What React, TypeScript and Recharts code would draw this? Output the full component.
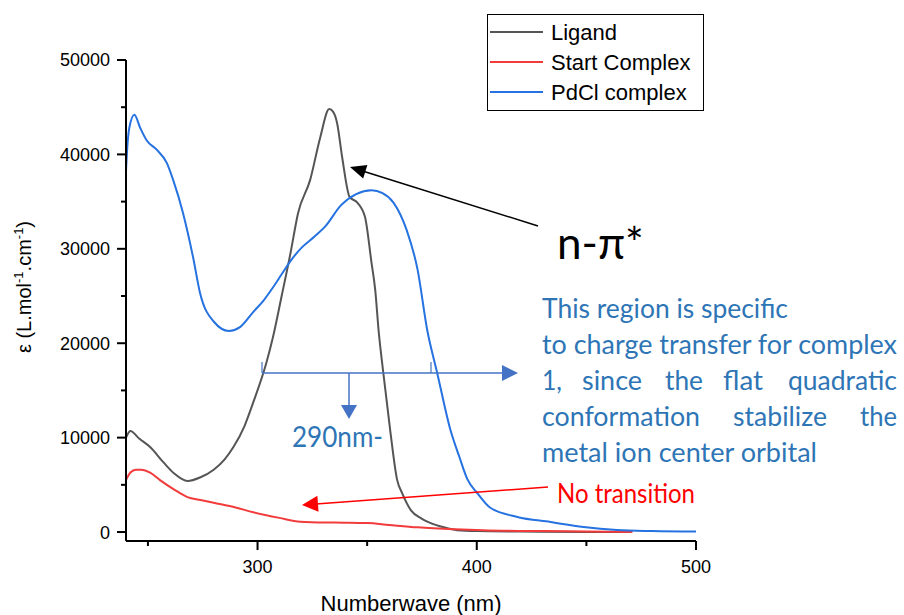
import React from 'react';
import { LineChart, Line, XAxis, YAxis } from 'recharts';

const W = 904;
const H = 615;

// UV-Vis spectra: wavelength (nm) and molar absorptivity
const ligandNm = [240, 242, 246, 251, 257, 262, 268, 274, 280, 285, 289, 294, 298, 304, 307, 311, 315, 318.5, 324, 328.6, 332.7, 334.5, 336.3, 338.6, 342, 345.5, 349, 352, 353.7, 355.2, 357.4, 360.5, 363.7, 366, 370, 375, 379, 385, 391, 400, 420, 450, 470];
const ligandEps = [10000, 10700, 9900, 9000, 7400, 6200, 5400, 5800, 6600, 7700, 9000, 11200, 13700, 17900, 20600, 25000, 29500, 33800, 37300, 41800, 44800, 44500, 43300, 39700, 35500, 34900, 33400, 28500, 25600, 21400, 16800, 10800, 5500, 4100, 2300, 1400, 950, 500, 200, 100, 50, 0, 0];

const startNm = [240, 242, 244.5, 247, 251, 255.5, 262, 268, 274, 280, 290, 298, 310, 319.5, 335, 350, 360, 373, 390, 403, 430, 450, 471];
const startEps = [5500, 6300, 6600, 6600, 6300, 5500, 4500, 3700, 3400, 3100, 2600, 2100, 1500, 1100, 1000, 950, 750, 500, 300, 200, 100, 50, 0];

const pdclNm = [240, 240.6, 241.5, 243.8, 246.5, 249.4, 254, 258.6, 261.5, 266, 270.6, 273.8, 280, 287, 292, 298, 303, 307, 311, 315, 320, 326, 331, 338, 345, 352, 357, 362, 368, 373, 377.4, 382, 388, 392, 395.7, 400.3, 406, 418.5, 433.6, 448.7, 464, 480, 500];
const pdclEps = [38300, 40800, 42800, 44200, 42800, 41500, 40500, 39100, 37300, 33800, 29100, 25300, 22300, 21300, 21700, 23300, 24600, 25900, 27300, 28700, 30100, 31300, 32400, 34600, 35800, 36200, 35900, 34900, 32000, 27800, 21400, 16800, 10800, 8000, 5600, 4100, 2600, 1600, 1060, 530, 210, 100, 50];

const xTicks = [250, 300, 350, 400, 450, 500];
const xMajor = [300, 400, 500];
const yTicks = [0, 5000, 10000, 15000, 20000, 25000, 30000, 35000, 40000, 45000, 50000];
const yMajor = [0, 10000, 20000, 30000, 40000, 50000];

const zip = (nm: number[], eps: number[]) => nm.map((x, i) => ({ nm: x, eps: eps[i] }));

const series = [
  { name: 'Ligand', color: '#555555', data: zip(ligandNm, ligandEps) },
  { name: 'Start Complex', color: '#f23b3b', data: zip(startNm, startEps) },
  { name: 'PdCl complex', color: '#2572e0', data: zip(pdclNm, pdclEps) },
];

// justified note lines: [word, left, right]
const noteLine3: [string, number, number][] = [
  ['1,', 542, 562], ['since', 582, 642], ['the', 665, 703], ['flat', 723, 763], ['quadratic', 788, 897],
];
const noteLine4: [string, number, number][] = [
  ['conformation', 542, 700], ['stabilize', 733, 827], ['the', 860, 897],
];

const axisFont = '"Liberation Sans", Arial, sans-serif';
const noteFont = 'Lato, "Open Sans", sans-serif';
const noteBlue = '#2e75b6';
const arrowBlue = '#4472c4';

const XTick = (props: any) => {
  const { x, y, payload } = props;
  const major = xMajor.includes(payload.value);
  return (
    <g>
      <line x1={x} x2={x} y1={y} y2={y + (major ? 9 : 5)} stroke="#000" strokeWidth={2} />
      {major && (
        <text x={x} y={y + 32} textAnchor="middle" fontSize={18} fontFamily={axisFont} fill="#000">
          {payload.value}
        </text>
      )}
    </g>
  );
};

const YTick = (props: any) => {
  const { x, y, payload } = props;
  const major = yMajor.includes(payload.value);
  return (
    <g>
      <line x1={x - (major ? 9 : 5)} x2={x} y1={y} y2={y} stroke="#000" strokeWidth={2} />
      {major && (
        <text x={x - 16} y={y} dy="0.36em" textAnchor="end" fontSize={18} fontFamily={axisFont} fill="#000">
          {payload.value}
        </text>
      )}
    </g>
  );
};

// straight arrow with a filled triangular head at (x2, y2)
const Arrow = ({ x1, y1, x2, y2, color, width = 1.5, head = 15, half = 7.5 }: any) => {
  const dx = x2 - x1;
  const dy = y2 - y1;
  const len = Math.hypot(dx, dy);
  const ux = dx / len;
  const uy = dy / len;
  const bx = x2 - ux * head;
  const by = y2 - uy * head;
  const pts = `${x2},${y2} ${bx - uy * half},${by + ux * half} ${bx + uy * half},${by - ux * half}`;
  return (
    <g>
      <line x1={x1} y1={y1} x2={bx + ux * 2} y2={by + uy * 2} stroke={color} strokeWidth={width} />
      <polygon points={pts} fill={color} />
    </g>
  );
};

const Notes = () => (
  <svg width={W} height={H} style={{ position: 'absolute', left: 0, top: 0, pointerEvents: 'none' }}>
    {/* legend */}
    <rect x={487.5} y={14.5} width={216} height={96} fill="#fff" stroke="#000" strokeWidth={1} />
    {series.map((s, i) => (
      <g key={s.name}>
        <line x1={490} x2={543} y1={32 + i * 30} y2={32 + i * 30} stroke={s.color} strokeWidth={2} />
        <text x={551} y={32 + i * 30 + 8} fontSize={22} fontFamily={axisFont} fill="#000">
          {s.name}
        </text>
      </g>
    ))}

    {/* axis titles */}
    <text transform="translate(31,287) rotate(-90)" textAnchor="middle" fontSize={20} fontFamily={axisFont} fill="#000">
      ε (L.mol
      <tspan fontSize={13} dy={-8}>-1</tspan>
      <tspan dy={8}>.cm</tspan>
      <tspan fontSize={13} dy={-8}>-1</tspan>
      <tspan dy={8}>)</tspan>
    </text>
    <text x={411} y={611} textAnchor="middle" fontSize={22} fontFamily={axisFont} fill="#000">
      Numberwave (nm)
    </text>

    {/* n-π* label */}
    <Arrow x1={538} y1={226} x2={350} y2={167} color="#000" width={1.5} head={16} half={7} />
    <text x={557} y={259} fontSize={44} fontFamily={noteFont} fill="#000">n-π*</text>

    {/* charge transfer region */}
    <line x1={262} x2={262} y1={362} y2={373} stroke={arrowBlue} strokeWidth={1.2} />
    <line x1={431} x2={431} y1={362} y2={373} stroke={arrowBlue} strokeWidth={1.2} />
    <Arrow x1={262} y1={373} x2={518} y2={373} color={arrowBlue} width={1.5} head={16} half={8} />
    <Arrow x1={349} y1={373} x2={349} y2={419} color={arrowBlue} width={1.5} head={14} half={8} />
    <text x={292} y={447} fontSize={28} fontFamily={noteFont} fill={noteBlue} textLength={91} lengthAdjust="spacingAndGlyphs">
      290nm-
    </text>

    <g fontSize={27} fontFamily={noteFont} fill={noteBlue}>
      <text x={542} y={318} textLength={246} lengthAdjust="spacingAndGlyphs">This region is specific</text>
      <text x={542} y={354} textLength={355} lengthAdjust="spacingAndGlyphs">to charge transfer for complex</text>
      {noteLine3.map(([w, a, b]) => (
        <text key={`l3-${w}`} x={a} y={390} textLength={b - a} lengthAdjust="spacingAndGlyphs">{w}</text>
      ))}
      {noteLine4.map(([w, a, b]) => (
        <text key={`l4-${w}`} x={a} y={426} textLength={b - a} lengthAdjust="spacingAndGlyphs">{w}</text>
      ))}
      <text x={542} y={462} textLength={275} lengthAdjust="spacingAndGlyphs">metal ion center orbital</text>
    </g>

    {/* start complex note */}
    <Arrow x1={548} y1={487} x2={302} y2={505} color="#ff0000" width={1.5} head={16} half={8} />
    <text x={557} y={503} fontSize={26} fontFamily={noteFont} fill="#ff0000" textLength={138} lengthAdjust="spacingAndGlyphs">
      No transition
    </text>
  </svg>
);

export default function App() {
  return (
    <div style={{ position: 'absolute', left: 0, top: 0, width: W, height: H, background: '#fff' }}>
      <LineChart width={W} height={H} margin={{ top: 60, right: 208, bottom: 0, left: 0 }}>
        <XAxis
          type="number"
          dataKey="nm"
          domain={[240, 500]}
          ticks={xTicks}
          height={74}
          tickSize={0}
          tickMargin={0}
          tickLine={false}
          axisLine={{ stroke: '#000', strokeWidth: 2 }}
          tick={<XTick />}
          allowDataOverflow
        />
        <YAxis
          type="number"
          dataKey="eps"
          domain={[-950, 50000]}
          ticks={yTicks}
          width={126}
          tickSize={0}
          tickMargin={0}
          tickLine={false}
          axisLine={{ stroke: '#000', strokeWidth: 2 }}
          tick={<YTick />}
          allowDataOverflow
        />
        {series.map((s) => (
          <Line
            key={s.name}
            data={s.data}
            dataKey="eps"
            name={s.name}
            type="monotone"
            stroke={s.color}
            strokeWidth={2}
            dot={false}
            activeDot={false}
            isAnimationActive={false}
          />
        ))}
      </LineChart>
      <Notes />
    </div>
  );
}
